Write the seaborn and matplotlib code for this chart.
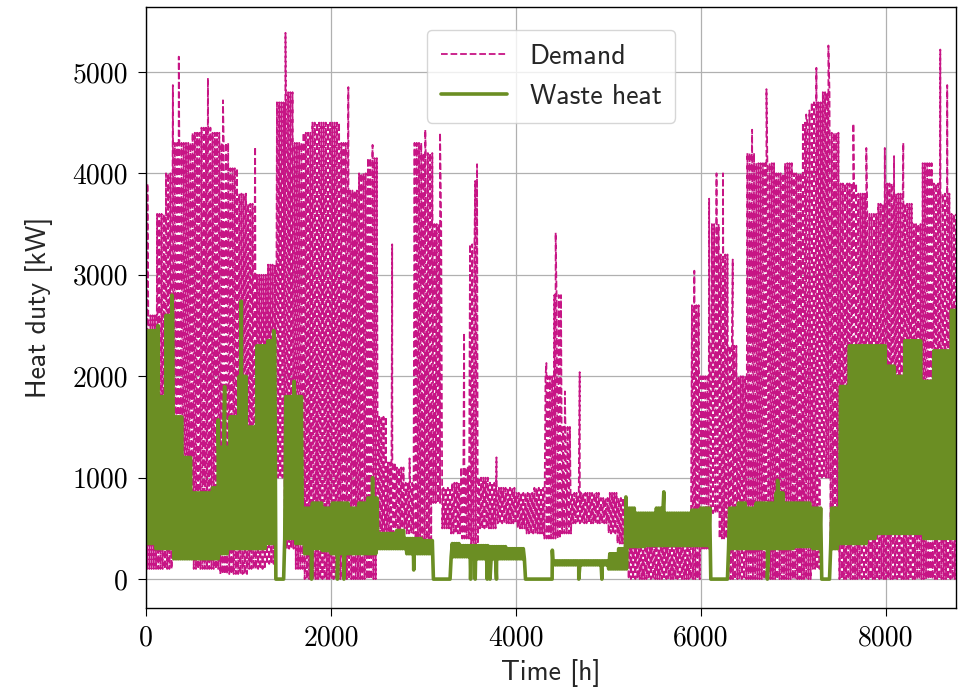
import numpy as np
import pandas as pd
import matplotlib
matplotlib.use("Agg")
import matplotlib.pyplot as plt
import seaborn as sns

# ---------------- data ----------------
# Envelopes per 100 h block (block k covers hours 100k .. 100k+100)
demand_hi = [2600, 3600, 4000, 4300, 4300, 4400, 4450, 4400, 4300, 4050,
             3800, 3700, 3000, 3100, 4700, 4800, 4300, 4400, 4500, 4500,
             4500, 4300, 3830, 4000, 4150, 1600, 1150, 1100, 950, 4300,
             4200, 3500, 900, 950, 1100, 3300, 1000, 950, 900, 900,
             850, 850, 900, 2000, 2800, 1500, 850, 850, 850, 800,
             850, 800, 400, 350, 350, 350, 350, 350, 350, 2700,
             2000, 3500, 3200, 2300, 2000, 4200, 4100, 4100, 4000, 4100,
             4000, 4500, 4700, 4800, 4400, 3900, 3900, 3800, 3600, 3700,
             3900, 3800, 3700, 3500, 4100, 3900, 3800, 3600]
demand_lo = [100, 100, 100, 200, 200, 100, 100, 100, 50, 50,
             50, 100, 100, 150, 1000, 300, 100, 0, 0, 0,
             0, 0, 0, 0, 0, 300, 400, 500, 450, 250,
             250, 750, 500, 450, 400, 300, 500, 500, 550, 550,
             500, 450, 450, 400, 400, 450, 550, 550, 550, 550,
             450, 350, 0, 0, 0, 0, 0, 0, 0, 0,
             300, 650, 400, 0, 0, 0, 0, 0, 0, 0,
             0, 0, 100, 1000, 400, 0, 0, 0, 0, 0,
             0, 0, 0, 0, 0, 0, 0, 0]
waste_hi = [2450, 1800, 2600, 1600, 1200, 850, 850, 900, 1300, 1600,
            2000, 1500, 2300, 2350, 0, 1800, 1800, 700, 750, 700,
            750, 750, 700, 750, 800, 450, 450, 480, 400, 400,
            380, 0, 0, 350, 330, 330, 330, 320, 320, 300,
            300, 0, 0, 0, 180, 180, 180, 180, 180, 180,
            250, 300, 700, 650, 650, 700, 650, 650, 650, 680,
            700, 0, 0, 700, 750, 700, 750, 750, 850, 750,
            750, 750, 700, 0, 700, 1900, 2300, 2300, 2300, 2300,
            2100, 2000, 2350, 2350, 1950, 2250, 2250, 2650]
waste_lo = [350, 300, 300, 200, 200, 200, 200, 200, 250, 300,
            300, 300, 300, 350, 0, 400, 350, 250, 300, 280,
            250, 250, 250, 250, 250, 300, 300, 300, 250, 250,
            250, 0, 0, 220, 220, 200, 200, 200, 200, 200,
            200, 0, 0, 0, 140, 140, 140, 140, 140, 140,
            100, 100, 320, 320, 330, 330, 330, 330, 330, 330,
            330, 0, 0, 300, 300, 300, 300, 300, 300, 300,
            320, 320, 300, 0, 300, 350, 350, 350, 400, 450,
            450, 450, 450, 450, 400, 400, 400, 400]

# isolated peaks / dips
demand_spike_h = [15, 290, 354, 669, 832, 1180, 1508, 2188, 2450, 2662,
                  2850, 3020, 3180, 3440, 3560, 3580, 3790, 4330, 4430, 4530,
                  4690, 5930, 6090, 6170, 6240, 6345, 6555, 6710, 7140, 7175,
                  7250, 7380, 7650, 7790, 7990, 8090, 8190, 8590, 8665]
demand_spike_v = [3900, 4870, 5150, 4940, 4720, 4260, 5385, 4850, 4280, 3300,
                  1190, 4430, 4400, 2430, 3925, 4090, 1200, 2130, 3415, 1850,
                  2040, 3040, 3750, 4000, 4000, 3150, 4430, 4830, 4580, 4620,
                  5040, 5260, 4490, 4250, 4250, 4170, 4300, 5220, 4870]
waste_spike_h = [130, 280, 780, 850, 1030, 1380, 1600, 1790, 2070, 2140,
                 2450, 2895, 3510, 3560, 3690, 3720, 3790, 4394, 4680, 4930,
                 5190, 5600, 6720, 6830]
waste_spike_v = [2500, 2800, 1570, 1900, 2740, 2450, 1950, 0, 0, 0,
                 1000, 90, 0, 0, 0, 0, 0, 285, 0, 0,
                 810, 860, 0, 975]

HOURS = 8760


def build_series(hi, lo, sp_h, sp_v):
    t = np.arange(0, HOURS + 1, 12)
    blk = np.minimum(t // 100, len(hi) - 1)
    hi_a = np.asarray(hi, float)[blk]
    lo_a = np.asarray(lo, float)[blk]
    v = np.where((t // 12) % 2 == 0, hi_a, lo_a)
    tt = np.concatenate([t, np.asarray(sp_h, float)])
    vv = np.concatenate([v, np.asarray(sp_v, float)])
    order = np.argsort(tt, kind="stable")
    return tt[order], vv[order]


td, vd = build_series(demand_hi, demand_lo, demand_spike_h, demand_spike_v)
tw, vw = build_series(waste_hi, waste_lo, waste_spike_h, waste_spike_v)
df_d = pd.DataFrame({"Time": td, "Heat": vd})
df_w = pd.DataFrame({"Time": tw, "Heat": vw})

# ---------------- style ----------------
sns.set_style("ticks", {"axes.grid": True})
plt.rcParams.update({
    "font.family": ["cmss10", "DejaVu Sans"],
    "axes.unicode_minus": False,
    "grid.color": "#b0b0b0",
    "grid.linewidth": 0.9,
    "axes.edgecolor": "black",
    "axes.linewidth": 1.0,
    "xtick.color": "black",
    "ytick.color": "black",
    "xtick.major.size": 6,
    "ytick.major.size": 6,
    "xtick.major.pad": 6,
    "ytick.major.pad": 7,
})

fig = plt.figure(figsize=(9.64, 6.91), dpi=100)
ax = fig.add_axes([0.1515, 0.1201, 0.8402, 0.8698])

sns.lineplot(data=df_d, x="Time", y="Heat", ax=ax, color="#C71585",
             linestyle="--", linewidth=1.3, estimator=None, sort=False,
             label="Demand")
sns.lineplot(data=df_w, x="Time", y="Heat", ax=ax, color="#6B8E23",
             linewidth=2.6, estimator=None, sort=False, label="Waste heat")

ax.set_xlim(0, HOURS)
ax.set_ylim(-285, 5640)
ax.set_xticks([0, 2000, 4000, 6000, 8000])
ax.set_yticks([0, 1000, 2000, 3000, 4000, 5000])
for lab in ax.get_xticklabels() + ax.get_yticklabels():
    lab.set_fontfamily("cmr10")
    lab.set_fontsize(20)
ax.set_xlabel("Time [h]", fontsize=20, labelpad=6)
ax.set_ylabel("Heat duty [kW]", fontsize=20, labelpad=14)
for s in ax.spines.values():
    s.set_visible(True)
    s.set_color("black")

leg = ax.legend(loc="upper center", fontsize=20, handlelength=2.4,
                framealpha=0.8, fancybox=True, borderpad=0.5,
                labelspacing=0.55, handletextpad=0.8,
                bbox_to_anchor=(0.5, 0.985))
leg.get_frame().set_edgecolor("#cccccc")

fig.savefig("out.png", dpi=100)
